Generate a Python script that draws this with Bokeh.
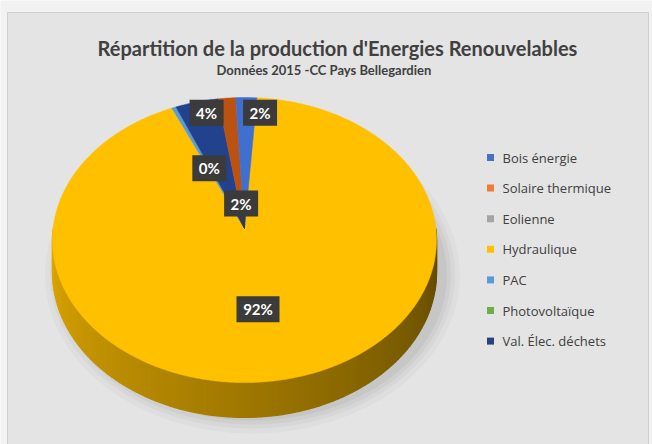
import numpy as np
from bokeh.plotting import figure
from bokeh.models import Range1d, ColumnDataSource
from bokeh.core.properties import value
from bokeh.embed import file_html
from bokeh.resources import INLINE

# ---------------- data ----------------
title = "Répartition de la production d'Energies Renouvelables"
subtitle = "Données 2015  -CC Pays Bellegardien"
categories = ["Bois énergie", "Solaire thermique", "Eolienne", "Hydraulique",
              "PAC", "Photovoltaïque", "Val. Élec. déchets"]
shares = [1.9, 1.6, 0.0, 92.2, 0.4, 0.0, 3.9]          # % of production
# order in which the slices run clockwise on the pie
draw_order = ["Hydraulique", "PAC", "Photovoltaïque", "Val. Élec. déchets",
              "Solaire thermique", "Bois énergie", "Eolienne"]

# ---------------- styles ----------------
legend_colors = ["#4472C4", "#ED7D31", "#A5A5A5", "#FFC000", "#5B9BD5", "#70AD47", "#264478"]
slice_colors = ["#3F6FCF", "#BC5210", "#A5A5A5", "#FFC000", "#5B9BD5", "#70AD47", "#22428E"]
label_show = [True, True, False, True, True, False, True]
label_frac = [0.88, 0.18, 0.5, 0.55, 0.48, 0.5, 0.9]    # radial position of label
label_nudge = [5.1, 0.0, 0.0, 3.0, 0.0, 0.0, 2.0]       # angular nudge (deg)
start_deg = 4.0

W, H = 652, 444
CX, CY = 244.0, 228.0
A, B, K = 191.4, 141.6, 0.081
DEPTH = 32.0
FONT = "Lato"


def proj(t_deg, f=1.0):
    t = np.radians(t_deg)
    u = f * np.sin(t)
    v = -f * np.cos(t)
    w = 1.0 - K * v
    return CX + A * u / w, CY + B * v / w, w


p = figure(width=W, height=H, output_backend="svg", toolbar_location=None,
           x_range=Range1d(0, W), y_range=Range1d(H, 0), min_border=0)
p.axis.visible = False
p.grid.visible = False
p.background_fill_color = "#f2f2f2"
p.border_fill_color = "#f2f2f2"
p.outline_line_color = None

# chart area frame
p.quad(left=[7], right=[648], top=[12], bottom=[H + 5], fill_color="#e4e4e4",
       line_color="#cfcfcf", line_width=1)

# ---------- title ----------
p.text(x=[337], y=[47], text=[title], text_font=value(FONT), text_font_style="bold",
       text_font_size="20px", text_color="#404040", text_align="center", text_baseline="middle")
p.text(x=[325], y=[69], text=[subtitle], text_font=value(FONT), text_font_style="bold",
       text_font_size="13px", text_color="#404040", text_align="center", text_baseline="middle")

# ---------- shadow ----------
ty0 = proj(0)[1]
ty1 = proj(180)[1]
ecy = (ty0 + ty1) / 2
for grow, a in [(16, 0.05), (11, 0.06), (7, 0.07), (3, 0.09)]:
    p.ellipse(x=[CX + 8], y=[ecy + DEPTH + 3], width=[2 * (A + grow)],
              height=[(ty1 - ty0) + 2 * grow], fill_color="#707070", fill_alpha=a,
              line_color=None)

# ---------- slice angles ----------
idx = {c: i for i, c in enumerate(categories)}
total = sum(shares)
angles = {}
a0 = start_deg
for c in draw_order:
    span = shares[idx[c]] / total * 360.0
    angles[c] = (a0, a0 + span)
    a0 += span


def slice_of(t):
    t = (t - start_deg) % 360 + start_deg
    for c in draw_order:
        s, e = angles[c]
        if s <= t < e:
            return c
    return draw_order[0]


def rgb(hexc):
    hexc = hexc.lstrip("#")
    return [int(hexc[i:i + 2], 16) for i in (0, 2, 4)]


# ---------- side (front half) ----------
n = 120
ts = np.linspace(90, 270, n + 1)
sx, sy, sc = [], [], []
for i in range(n):
    ta, tb = ts[i], ts[i + 1]
    xa, ya, wa = proj(ta)
    xb, yb, wb = proj(tb)
    c = slice_of((ta + tb) / 2)
    frac = ((ta + tb) / 2 - 90) / 180.0
    shade = 0.37 + (0.88 - 0.37) * frac
    r, g, b = [int(v * shade) for v in rgb(slice_colors[idx[c]])]
    col = "#%02x%02x%02x" % (r, g, b)
    sx.append([xa, xb, xb, xa])
    sy.append([ya, yb, yb + DEPTH / wb, ya + DEPTH / wa])
    sc.append(col)
p.patches(xs=sx, ys=sy, fill_color=sc, line_color=sc, line_width=1.2)

# ---------- top surface ----------
px, py, pc = [], [], []
for c in draw_order:
    s, e = angles[c]
    if e - s <= 0:
        continue
    tt = np.linspace(s, e, max(3, int((e - s) * 2)))
    xs, ys, _ = proj(tt)
    px.append([CX] + list(xs))
    py.append([CY] + list(ys))
    pc.append(slice_colors[idx[c]])
p.patches(xs=px, ys=py, fill_color=pc, line_color=pc, line_width=0.5)

# ---------- data labels ----------
lx, ly, lt, lw = [], [], [], []
for i, c in enumerate(categories):
    if not label_show[i]:
        continue
    s, e = angles[c]
    mid = (s + e) / 2 + label_nudge[i]
    x, y, _ = proj(mid, label_frac[i])
    txt = "%d%%" % round(shares[i])
    lx.append(x); ly.append(y); lt.append(txt); lw.append(9 * len(txt) + 16)
    if c == "Solaire thermique":
        # callout pointer to the pie centre
        p.patch(x=[x - 4, x + 4, CX], y=[y + 8, y + 8, CY], fill_color="#3a3a3a",
                line_color="#3a3a3a")
src = ColumnDataSource(dict(x=lx, y=ly, text=lt, w=lw))
p.rect(x="x", y="y", width="w", height=26, width_units="screen", height_units="screen",
       source=src, fill_color="#3b3b3b", line_color=None)
p.text(x="x", y="y", text="text", source=src, text_font=value(FONT), text_font_style="bold",
       text_font_size="15px", text_color="white", text_align="center", text_baseline="middle")

# ---------- legend ----------
leg_x = [490] * len(categories)
leg_y = [157 + 30.6 * i for i in range(len(categories))]
p.scatter(x=leg_x, y=leg_y, marker="square", size=7, fill_color=legend_colors,
          line_color=None)
p.text(x=[x + 12 for x in leg_x], y=leg_y, text=categories, text_font=value("Open Sans"),
       text_font_size="13px", text_color="#404040", text_baseline="middle")

open("out.html", "w").write(file_html(p, INLINE))
